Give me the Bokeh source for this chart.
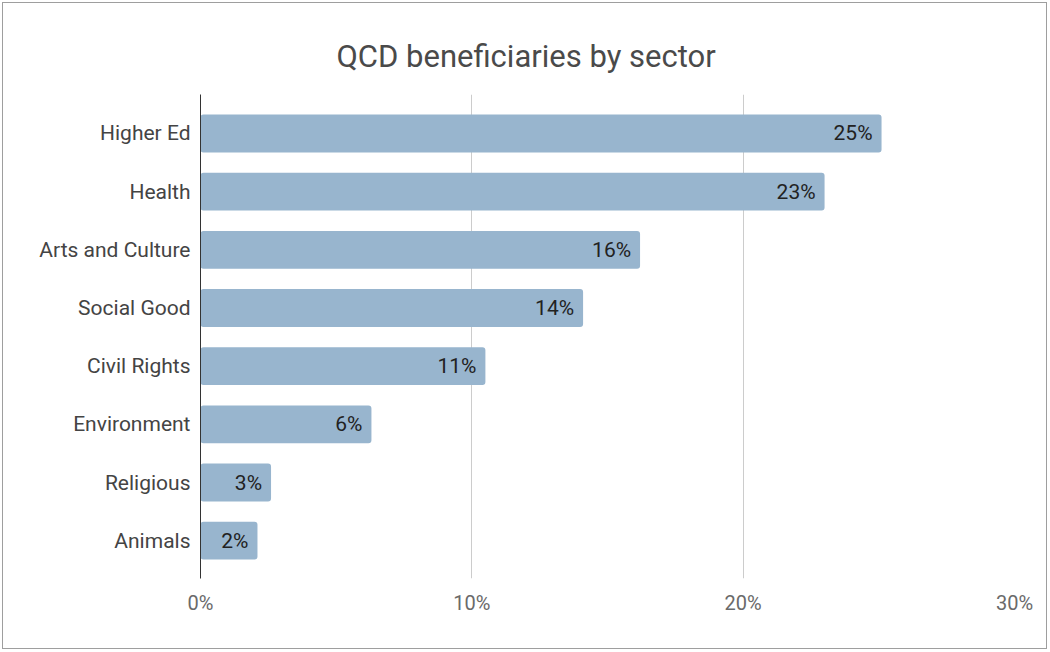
from bokeh.plotting import figure
from bokeh.models import ColumnDataSource, FixedTicker, NumeralTickFormatter, Range1d
from bokeh.core.properties import value
from bokeh.embed import file_html
from bokeh.resources import INLINE

categories = ["Higher Ed", "Health", "Arts and Culture", "Social Good", "Civil Rights",
              "Environment", "Religious", "Animals"]
shares = [0.251, 0.230, 0.162, 0.141, 0.105, 0.063, 0.026, 0.021]
value_labels = ["25%", "23%", "16%", "14%", "11%", "6%", "3%", "2%"]
x_ticks = [0.0, 0.1, 0.2, 0.3]

n = len(categories)
ypos = [n - 1 - i for i in range(n)]
src = ColumnDataSource(dict(y=ypos, v=shares, lab=value_labels, cat=categories))

FONT = "Roboto"
p = figure(width=1045, height=647, output_backend="svg", toolbar_location=None,
           x_range=Range1d(0, 0.3), y_range=Range1d(-0.65, n - 1 + 0.67),
           min_border_left=197, min_border_right=34, min_border_top=91, min_border_bottom=72,
           title="QCD beneficiaries by sector")
p.styles = {"margin": "2px", "border": "1px solid #9e9e9e"}
p.outline_line_color = None
p.background_fill_color = "white"
p.border_fill_color = "white"

p.title.align = "left"
p.title.offset = 136
p.title.text_font = FONT
p.title.text_font_style = "normal"
p.title.text_font_size = "31px"
p.title.text_color = "#4a4a4a"
p.title.standoff = 40

p.hbar(y="y", right="v", left=0, height=0.65, source=src, fill_color="#98b5ce",
       line_color=None, border_radius=3)
p.text(x="v", y="y", text="lab", source=src, x_offset=-9, text_align="right",
       text_baseline="middle", text_font=value(FONT), text_font_size="21px", text_color="#222222")

p.xaxis.ticker = FixedTicker(ticks=x_ticks)
p.xaxis.formatter = NumeralTickFormatter(format="0%")
p.xaxis.axis_line_color = None
p.xaxis.major_tick_line_color = None
p.xaxis.minor_tick_line_color = None
p.xaxis.major_tick_out = 0
p.xaxis.major_tick_in = 0
p.xaxis.major_label_text_font = FONT
p.xaxis.major_label_text_font_size = "20px"
p.xaxis.major_label_text_color = "#6a6a6a"
p.xaxis.major_label_standoff = 12

p.yaxis.ticker = FixedTicker(ticks=ypos)
p.yaxis.major_label_overrides = {y: c for y, c in zip(ypos, categories)}
p.yaxis.axis_line_color = "#333333"
p.yaxis.axis_line_width = 1
p.yaxis.major_tick_line_color = None
p.yaxis.minor_tick_line_color = None
p.yaxis.major_tick_out = 0
p.yaxis.major_tick_in = 0
p.yaxis.major_label_text_font = FONT
p.yaxis.major_label_text_font_size = "21px"
p.yaxis.major_label_text_color = "#444444"
p.yaxis.major_label_standoff = 10

p.xgrid.ticker = FixedTicker(ticks=x_ticks[1:])
p.xgrid.grid_line_color = "#cccccc"
p.ygrid.grid_line_color = None

open("out.html", "w").write(file_html(p, INLINE))
